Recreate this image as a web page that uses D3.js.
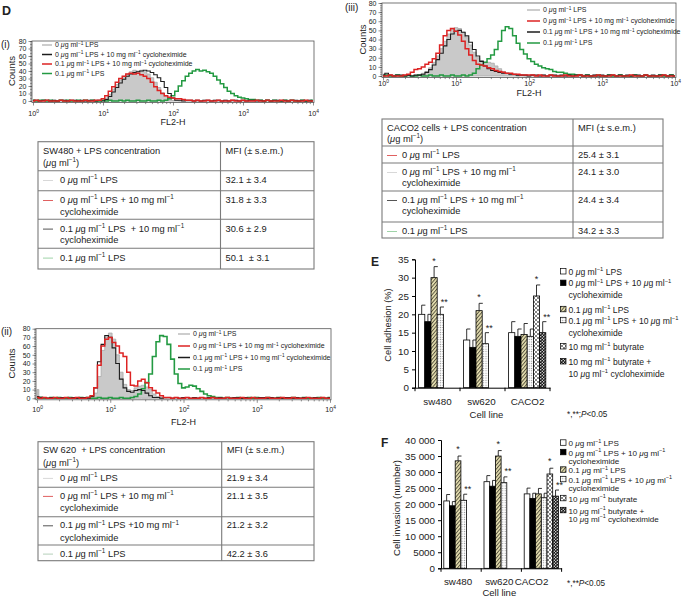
<!DOCTYPE html>
<html>
<head>
<meta charset="utf-8">
<script src="https://cdn.jsdelivr.net/npm/d3@7.9.0/dist/d3.min.js"></script>
<style>
  body { margin: 0; background: #fff; }
  svg { display: block; }
  text { font-family: "Liberation Sans", Arial, Helvetica, sans-serif; white-space: pre; fill: #222; }
</style>
</head>
<body>
<svg id="fig" width="685" height="599"></svg>
<script>
// ---------- flow cytometry histograms (counts per 0.05-decade channel, FL2-H 10^0..10^4) ----------
const fl2Exp = d3.range(0, 4.0001, 0.05);
const fl2Ticks = [1, 10, 100, 1000, 10000];
const countTicks = [0, 10, 20, 30, 40, 50, 60, 70, 80];

// (i) SW480
const sw480_0LPS = [1,0,0,1,0,0,1,0,0,1, 0,0,1,0,0,1,0,0,1,0, 1,4,9,16,22,28,33,36,39,41, 40,41,39,36,31,25,18,11,6,3, 1,1,0,1,0,0,1,0,0,1, 0,0,1,0,0,1,0,0,1,0, 0,1,0,0,1,0,0,1,0,0, 1,0,0,1,0,0,1,0,0,1,0];
const sw480_0LPScyclo = [1,1,0,1,1,0,1,0,1,1, 0,1,1,0,1,0,1,1,0,1, 0,2,6,12,18,24,29,33,36,38, 39,40,41,40,38,35,31,26,18,10, 4,1,1,0,1,1,0,1,0,1, 1,0,1,1,0,1,0,1,1,0, 1,0,1,1,0,1,0,1,0,1, 1,0,1,0,1,1,0,1,0,1,0];
const sw480_01LPScyclo = [0,1,0,0,1,0,0,0,1,0, 0,1,0,0,0,1,0,0,1,1, 3,7,13,19,25,30,33,36,37,36, 37,35,33,30,25,19,14,10,7,5, 4,3,3,2,1,1,0,1,0,0, 1,0,0,1,0,0,0,1,0,0, 1,0,0,0,1,0,0,1,0,0, 0,1,0,0,1,0,0,0,1,0,0];
const sw480_01LPS = [1,0,1,1,0,1,0,0,1,0, 1,0,0,1,0,1,0,1,0,0, 1,0,1,0,0,1,0,1,0,0, 1,0,0,1,0,0,1,0,1,3, 7,13,20,27,33,37,40,42,40,41, 39,37,33,28,23,18,13,10,7,5, 4,3,2,2,1,1,0,1,0,1, 0,0,1,0,1,0,0,1,0,0,1];

// (iii) CACO2
const caco2_0LPS = [2,1,0,1,0,0,1,0,0,1, 1,3,5,9,15,22,30,38,46,51, 53,52,48,42,34,26,20,17,15,15, 14,11,8,5,3,1,1,0,1,0, 0,1,0,0,1,0,0,0,1,0, 0,1,0,0,0,1,0,0,1,0, 0,0,1,0,0,1,0,0,0,1, 0,0,1,0,0,0,1,0,0,1,0];
const caco2_0LPScyclo = [0,0,1,0,0,0,1,2,4,7, 8,10,13,15,19,25,34,44,50,52, 49,45,38,30,23,17,13,12,11,9, 8,6,5,4,3,3,2,2,1,1, 1,1,0,1,0,0,1,0,0,0, 1,0,0,0,1,0,0,0,0,1, 0,0,0,1,0,0,0,0,1,0, 0,0,1,0,0,0,0,1,0,0,0];
const caco2_01LPScyclo = [1,3,1,0,1,1,0,1,0,1, 1,2,4,7,12,18,25,33,40,46, 49,50,48,44,37,29,22,16,11,8, 6,5,4,3,3,2,2,1,1,1, 0,1,1,0,1,0,1,1,0,1, 0,1,0,1,1,0,1,0,1,0, 1,0,1,1,0,1,0,1,0,1, 1,0,1,0,1,0,1,1,0,1,0];
const caco2_01LPS = [0,1,0,0,1,0,0,1,0,0, 1,0,0,1,0,0,1,0,0,1, 0,0,1,0,1,3,8,12,15,19, 23,29,38,50,54,52,44,36,29,24, 19,16,13,11,9,8,7,5,4,4, 3,2,2,1,1,0,1,0,0,1, 0,0,1,0,0,1,0,0,0,1, 0,0,1,0,0,0,1,0,0,1,0];

// (ii) SW620
const sw620_0LPS = [10,2,1,0,1,0,1,0,0,1, 0,1,0,0,1,1,6,25,55,70, 75,68,50,30,16,10,9,12,14,15, 13,10,5,2,1,0,1,0,1,0, 0,1,0,0,1,0,0,1,0,0, 1,0,0,1,0,0,0,1,0,0, 1,0,0,0,1,0,0,1,0,0, 0,1,0,0,0,1,0,0,1,0,0];
const sw620_0LPScyclo = [1,0,1,0,0,1,0,0,1,0, 0,1,0,0,1,3,12,38,60,68, 70,64,60,52,48,30,15,14,20,22, 18,12,9,6,3,1,1,0,1,0, 0,1,0,0,0,1,0,0,1,0, 0,0,1,0,0,0,1,0,0,1, 0,0,0,1,0,0,0,1,0,0, 1,0,0,0,1,0,0,0,1,0,0];
const sw620_01LPScyclo = [2,1,1,0,1,1,0,1,1,0, 1,0,1,1,0,2,12,42,62,72, 70,58,40,22,12,8,7,9,10,9, 6,3,1,1,0,1,1,0,1,0, 1,1,0,1,0,1,0,1,1,0, 1,0,1,0,1,1,0,1,0,1, 0,1,1,0,1,0,1,0,1,1, 0,1,0,1,1,0,1,0,1,0,1];
const sw620_01LPS = [0,1,0,0,1,0,1,0,0,1, 0,0,1,0,1,0,0,1,0,0, 1,0,0,1,0,0,1,2,5,11, 18,28,48,65,72,71,62,45,28,17, 12,13,15,14,11,8,5,3,2,1, 1,0,1,0,0,1,0,0,1,0, 1,0,0,1,0,0,1,0,0,0, 1,0,0,1,0,0,0,1,0,0,1];

// ---------- MFI tables ----------
const sw480Head = ['SW480 + LPS concentration', '(μg ml^−1^)'];
const sw480Rows = [['0 μg ml^−1^ LPS'], ['0 μg ml^−1^ LPS + 10 mg ml^−1^', 'cycloheximide'], ['0.1 μg ml^−1^ LPS  + 10 mg ml^−1^', 'cycloheximide'], ['0.1 μg ml^−1^ LPS']];
const sw480Mfi = ['32.1 ± 3.4', '31.8 ± 3.3', '30.6 ± 2.9', '50.1  ± 3.1'];

const sw620Head = ['SW 620  + LPS concentration', '(μg ml^−1^)'];
const sw620Rows = [['0 μg ml^−1^ LPS'], ['0 μg ml^−1^ LPS + 10 mg ml^−1^', 'cycloheximide'], ['0.1 μg ml^−1^ LPS +10 mg ml^−1^', 'cycloheximide'], ['0.1 μg ml^−1^ LPS']];
const sw620Mfi = ['21.9 ± 3.4', '21.1 ± 3.5', '21.2 ± 3.2', '42.2 ± 3.6'];

const caco2Head = ['CACO2 cells + LPS concentration', '(μg ml^−1^)'];
const caco2Rows = [['0 μg ml^−1^ LPS'], ['0 μg ml^−1^ LPS + 10 mg ml^−1^', 'cycloheximide'], ['0.1 μg ml^−1^ LPS + 10 mg ml^−1^', 'cycloheximide'], ['0.1 μg ml^−1^ LPS']];
const caco2Mfi = ['25.4 ± 3.1', '24.1 ± 3.0', '24.4 ± 3.4', '34.2 ± 3.3'];

// ---------- E / F bar charts ----------
const cellLines = ['sw480', 'sw620', 'CACO2'];
const adhesionTicks = [0, 5, 10, 15, 20, 25, 30, 35];
const adhesionMean = [[20, 18, 30, 20, null, null], [13, 11, 21, 12, null, null], [15, 14, 14.5, 14, 25, 15]];
const adhesionErr = [[2.5, 2, 3, 2, null, null], [3, 2, 2, 3, null, null], [3, 2, 3, 2, 3, 3]];
const invasionTicks = [0, 5000, 10000, 15000, 20000, 25000, 30000, 35000, 40000];
const invasionMean = [[21000, 19500, 33500, 21200, null, null], [27000, 25600, 35000, 26700, null, null], [23200, 21800, 23200, 22000, 29400, 22500]];
const invasionErr = [[2000, 1300, 1500, 1900, null, null], [1900, 1800, 1700, 1800, null, null], [1800, 1600, 1700, 1400, 1800, 1900]];
// significance marks: [cell line, treatment index, symbol]
const adhesionSig = [['sw480', 2, '*'], ['sw480', 3, '**'], ['sw620', 2, '*'], ['sw620', 3, '**'], ['CACO2', 4, '*'], ['CACO2', 5, '**']];
const invasionSig = [['sw480', 2, '*'], ['sw480', 3, '**'], ['sw620', 2, '*'], ['sw620', 3, '**'], ['CACO2', 4, '*'], ['CACO2', 5, '**']];
const adhesionLegend = [['0 μg ml^−1^ LPS'], ['0 μg ml^−1^ LPS + 10 μg ml^−1^', 'cycloheximide'], ['0.1 μg ml^−1^ LPS'], ['0.1 μg ml^−1^ LPS + 10 μg ml^−1^', 'cycloheximide'], ['10 mg ml^−1^ butyrate'], ['10 mg ml^−1^ butyrate +', '10 μg ml^−1^ cycloheximide']];
const invasionLegend = [['0 μg ml^−1^ LPS'], ['0 μg ml^−1^ LPS + 10 μg ml^−1^', 'cycloheximide'], ['0.1 μg ml^−1^ LPS'], ['0.1 μg ml^−1^ LPS + 10 μg ml^−1^', 'cycloheximide'], ['10 μg ml^−1^ butyrate'], ['10 μg ml^−1^ butyrate +', '10 μg ml^−1^ cycloheximide']];

const svg = d3.select('#fig');
const FONT = '"Liberation Sans", Arial, Helvetica, sans-serif';
const RED = '#dd2323', GREEN = '#239a42', BLACK = '#1c1c1c', GRAY = '#bdbdbd';

// text with ^superscript^ parts and italic mu
function rich(t, str, fs) {
  t.attr('font-size', fs);
  let up = false;
  str.split('^').forEach((p, i) => {
    if (!p) return;
    if (i % 2 === 1) {
      t.append('tspan').attr('font-size', fs * 0.68).attr('dy', -fs * 0.38).text(p);
      up = true;
    } else {
      p.split(/(μ)/).forEach(q => {
        if (!q) return;
        const s = t.append('tspan').text(q);
        if (q === 'μ') s.attr('font-style', 'italic');
        if (up) { s.attr('dy', fs * 0.38); up = false; }
      });
    }
  });
  return t;
}
function label(x, y, str, fs, anchor) {
  return rich(svg.append('text').attr('x', x).attr('y', y).attr('text-anchor', anchor || 'start'), str, fs);
}

// ---------- patterns ----------
const defs = svg.append('defs');
const hatch = defs.append('pattern').attr('id', 'hatch').attr('patternUnits', 'userSpaceOnUse')
  .attr('width', 2.6).attr('height', 2.6).attr('patternTransform', 'rotate(40)');
hatch.append('rect').attr('width', 2.6).attr('height', 2.6).attr('fill', '#e6dfb0');
hatch.append('line').attr('x1', 0.5).attr('x2', 0.5).attr('y1', 0).attr('y2', 2.6).attr('stroke', '#4d4a38').attr('stroke-width', 0.9);
const dots = defs.append('pattern').attr('id', 'dots').attr('patternUnits', 'userSpaceOnUse').attr('width', 2.4).attr('height', 2.4);
dots.append('rect').attr('width', 2.4).attr('height', 2.4).attr('fill', '#fff');
dots.append('circle').attr('cx', 1.2).attr('cy', 1.2).attr('r', 0.6).attr('fill', '#888');
const cross = defs.append('pattern').attr('id', 'cross').attr('patternUnits', 'userSpaceOnUse').attr('width', 4).attr('height', 4);
cross.append('rect').attr('width', 4).attr('height', 4).attr('fill', '#fff');
cross.append('path').attr('d', 'M0,0L4,4M4,0L0,4').attr('stroke', '#333').attr('stroke-width', 0.6);
const checker = defs.append('pattern').attr('id', 'checker').attr('patternUnits', 'userSpaceOnUse').attr('width', 3).attr('height', 3);
checker.append('rect').attr('width', 3).attr('height', 3).attr('fill', '#111');
checker.append('circle').attr('cx', 0.75).attr('cy', 0.75).attr('r', 0.7).attr('fill', '#fff');
checker.append('circle').attr('cx', 2.25).attr('cy', 2.25).attr('r', 0.7).attr('fill', '#fff');
const barFills = ['#fff', '#000', 'url(#hatch)', 'url(#dots)', 'url(#cross)', 'url(#checker)'];

// ---------- histogram panel ----------
function histPanel(o) {
  const x = d3.scaleLog().domain([1, 1e4]).range([o.x0, o.x1]);
  const y = d3.scaleLinear().domain([0, 80]).range([o.y0, o.y1]);
  const g = svg.append('g');
  const clip = 'clip-' + o.id;
  defs.append('clipPath').attr('id', clip).append('rect')
    .attr('x', o.x0 - 1).attr('y', o.y1).attr('width', o.x1 - o.x0 + 2).attr('height', o.y0 - o.y1 + 2);
  const plot = g.append('g').attr('clip-path', `url(#${clip})`);
  o.series.forEach(s => {
    const pts = s.counts.map((c, i) => [fl2Exp[i], c]);
    if (s.fill) {
      plot.append('path').datum(pts)
        .attr('d', d3.area().curve(d3.curveStep).x(d => x(10 ** d[0])).y0(y(0)).y1(d => y(d[1])))
        .attr('fill', '#c9c9c9').attr('stroke', '#a8a8a8').attr('stroke-width', 0.8);
    } else {
      plot.append('path').datum(pts)
        .attr('d', d3.line().curve(d3.curveStep).x(d => x(10 ** d[0])).y(d => y(d[1])))
        .attr('fill', 'none').attr('stroke', s.color).attr('stroke-width', s.w);
    }
  });
  // frame
  g.append('rect').attr('x', o.x0 - 1).attr('y', o.y1).attr('width', o.x1 - o.x0 + 2).attr('height', o.y0 - o.y1 + 1.5)
    .attr('fill', 'none').attr('stroke', '#555').attr('stroke-width', 0.8);
  // y axis
  const ya = g.append('g').attr('transform', `translate(${o.x0 - 1},0)`)
    .call(d3.axisLeft(y).tickValues(countTicks).tickSize(3.5).tickPadding(2));
  ya.select('.domain').remove();
  ya.selectAll('text').attr('font-family', FONT).attr('font-size', 7).attr('fill', '#333');
  g.append('g').attr('transform', `translate(${o.x0 - 1},0)`)
    .call(d3.axisLeft(y).tickValues(d3.range(0, 81, 2)).tickSize(2).tickFormat(''))
    .select('.domain').remove();
  // x axis
  const xa = g.append('g').attr('transform', `translate(0,${o.y0 + 1.5})`)
    .call(d3.axisBottom(x).tickValues(fl2Ticks).tickSize(3).tickPadding(o.xPad));
  xa.select('.domain').remove();
  xa.selectAll('text').each(function (d) {
    const t = d3.select(this).text('').attr('font-family', FONT).attr('fill', '#333');
    rich(t, '10^' + Math.round(Math.log10(d)) + '^', 7.2);
  });
  const minor = [];
  [1, 10, 100, 1000].forEach(b => d3.range(2, 10).forEach(m => minor.push(b * m)));
  g.append('g').attr('transform', `translate(0,${o.y0 + 1.5})`)
    .call(d3.axisBottom(x).tickValues(minor).tickSize(1.6).tickFormat(''))
    .select('.domain').remove();
  g.selectAll('.tick line').attr('stroke', '#444').attr('stroke-width', 0.6);
  label((o.x0 + o.x1) / 2, o.titleY, 'FL2-H', 9, 'middle');
  svg.append('text').attr('transform', `translate(${o.countsX},${(o.y0 + o.y1) / 2}) rotate(-90)`)
    .attr('text-anchor', 'middle').attr('font-size', 9.5).text('Counts');
  // legend
  o.legend.forEach((s, k) => {
    const yy = o.legY[k];
    g.append('line').attr('x1', o.legX).attr('x2', o.legX + o.legW).attr('y1', yy).attr('y2', yy)
      .attr('stroke', s.color).attr('stroke-width', 1.5);
    rich(g.append('text').attr('x', o.legX + o.legW + 3).attr('y', yy + 2.4), s.text, 7);
  });
}

const L0 = '0 μg ml^−1^ LPS', L01 = '0.1 μg ml^−1^ LPS';
const L0c = '0 μg ml^−1^ LPS + 10 mg ml^−1^ cycloheximide', L01c = '0.1 μg ml^−1^ LPS + 10 mg ml^−1^ cycloheximide';

histPanel({
  id: 'i', x0: 33, x1: 313, y0: 101, y1: 41, xPad: 5, titleY: 124.5, countsX: 15,
  series: [
    { counts: sw480_0LPS, fill: true },
    { counts: sw480_01LPS, color: GREEN, w: 1.5 },
    { counts: sw480_0LPScyclo, color: BLACK, w: 1.1 },
    { counts: sw480_01LPScyclo, color: RED, w: 1.4 }
  ],
  legX: 42, legW: 10, legY: [45, 54.5, 64, 73.5],
  legend: [{ color: GRAY, text: L0 }, { color: BLACK, text: L0c }, { color: RED, text: L01c }, { color: GREEN, text: L01 }]
});
histPanel({
  id: 'iii', x0: 383, x1: 675, y0: 76, y1: 3, xPad: 0, titleY: 95.5, countsX: 366,
  series: [
    { counts: caco2_0LPS, fill: true },
    { counts: caco2_01LPS, color: GREEN, w: 1.5 },
    { counts: caco2_01LPScyclo, color: BLACK, w: 1.1 },
    { counts: caco2_0LPScyclo, color: RED, w: 1.5 }
  ],
  legX: 527, legW: 13, legY: [10, 21, 32, 43],
  legend: [{ color: GRAY, text: L0 }, { color: RED, text: L0c }, { color: BLACK, text: L01c }, { color: GREEN, text: L01 }]
});
histPanel({
  id: 'ii', x0: 37, x1: 330, y0: 398.3, y1: 328.7, xPad: 4, titleY: 424.5, countsX: 15,
  series: [
    { counts: sw620_0LPS, fill: true },
    { counts: sw620_01LPS, color: GREEN, w: 1.6 },
    { counts: sw620_01LPScyclo, color: BLACK, w: 1.1 },
    { counts: sw620_0LPScyclo, color: RED, w: 1.5 }
  ],
  legX: 178, legW: 12, legY: [334, 346, 357.5, 369],
  legend: [{ color: GRAY, text: L0 }, { color: RED, text: L0c }, { color: BLACK, text: L01c }, { color: GREEN, text: L01 }]
});

// ---------- MFI tables ----------
function mfiTable(o) {
  const g = svg.append('g');
  const top = o.rows[0], bot = o.rows[o.rows.length - 1];
  g.append('rect').attr('x', o.x0).attr('y', top).attr('width', o.x1 - o.x0).attr('height', bot - top)
    .attr('fill', 'none').attr('stroke', '#7a7a7a').attr('stroke-width', 1.1);
  o.rows.slice(1, -1).forEach(r => g.append('line').attr('x1', o.x0).attr('x2', o.x1).attr('y1', r).attr('y2', r)
    .attr('stroke', '#7a7a7a').attr('stroke-width', 1.1));
  g.append('line').attr('x1', o.xc).attr('x2', o.xc).attr('y1', top).attr('y2', bot).attr('stroke', '#7a7a7a').attr('stroke-width', 1.1);
  const lines = (cellTop, arr, x) => arr.forEach((s, k) =>
    rich(g.append('text').attr('x', x).attr('y', cellTop + o.pad + k * o.lh), s, 9.3));
  lines(top, o.head, o.x0 + 5);
  lines(top, ['MFI (± s.e.m.)'], o.xc + 5);
  o.labels.forEach((lab, r) => {
    const ct = o.rows[r + 1];
    g.append('line').attr('x1', o.x0 + 5).attr('x2', o.x0 + 15).attr('y1', ct + o.pad - 2.5).attr('y2', ct + o.pad - 2.5)
      .attr('stroke', o.swatch[r]).attr('stroke-width', 1);
    lines(ct, lab, o.x0 + o.textOff);
    lines(ct, [o.mfi[r]], o.xc + 5);
  });
}
mfiTable({ x0: 38, x1: 314, xc: 220.5, rows: [141.7, 170.7, 190.7, 219.3, 248.3, 269], pad: 12.3, lh: 11.5, textOff: 22,
  head: sw480Head, labels: sw480Rows, mfi: sw480Mfi, swatch: ['#d8d8d8', '#e06060', '#555', '#9fd3a8'] });
mfiTable({ x0: 38, x1: 314, xc: 221.7, rows: [441.7, 469.3, 487.3, 516.7, 545, 560.7], pad: 11.6, lh: 12.2, textOff: 22,
  head: sw620Head, labels: sw620Rows, mfi: sw620Mfi, swatch: ['#d8d8d8', '#e06060', '#555', '#b5d0bb'] });
mfiTable({ x0: 382, x1: 663, xc: 573, rows: [119, 146, 163, 191, 222, 238], pad: 12, lh: 10.6, textOff: 20,
  head: caco2Head, labels: caco2Rows, mfi: caco2Mfi, swatch: ['#e06060', '#d8d8d8', '#555', '#9fd3a8'] });

// ---------- grouped bar charts ----------
function barPanel(o) {
  const g = svg.append('g');
  const x = d3.scaleBand().domain(cellLines).range([o.x0, o.x1]).padding(0);
  const inner = d3.scaleBand().domain(d3.range(6)).range([o.off, o.off + 6 * o.bw]).padding(0);
  const y = d3.scaleLinear().domain([0, o.max]).range([o.y0, o.y1]);
  cellLines.forEach((c, ci) => {
    o.mean[ci].forEach((m, k) => {
      if (m == null) return;
      const bx = x(c) + inner(k), top = y(m + o.err[ci][k]);
      g.append('line').attr('x1', bx + o.bw / 2).attr('x2', bx + o.bw / 2).attr('y1', y(m)).attr('y2', top)
        .attr('stroke', '#000').attr('stroke-width', 0.8);
      g.append('line').attr('x1', bx + o.bw / 2).attr('x2', bx + o.bw + 0.6).attr('y1', top).attr('y2', top)
        .attr('stroke', '#000').attr('stroke-width', 0.8);
      g.append('rect').attr('x', bx).attr('y', y(m)).attr('width', o.bw).attr('height', y(0) - y(m))
        .attr('fill', barFills[k]).attr('stroke', '#000').attr('stroke-width', 0.8);
    });
  });
  o.sig.forEach(([c, k, s]) => {
    const ci = cellLines.indexOf(c);
    const bx = x(c) + inner(k), top = y(o.mean[ci][k] + o.err[ci][k]);
    if (s === '*') g.append('text').attr('x', bx + o.bw / 2).attr('y', top - o.starGap).attr('text-anchor', 'middle').attr('font-size', 9).text(s);
    else g.append('text').attr('x', bx + o.bw / 2 + 0.5).attr('y', top - o.dstarGap).attr('font-size', 9).text(s);
  });
  // axes
  const ya = g.append('g').attr('transform', `translate(${o.x0},0)`)
    .call(d3.axisLeft(y).tickValues(o.ticks).tickSize(3).tickPadding(3).tickFormat(o.fmt));
  ya.selectAll('text').attr('font-family', FONT).attr('font-size', 9.8).attr('fill', '#222');
  const xa = g.append('g').attr('transform', `translate(0,${o.y0})`)
    .call(d3.axisBottom(x).tickSize(0).tickPadding(o.catPad));
  xa.selectAll('text').attr('font-family', FONT).attr('font-size', 9.8).attr('fill', '#222')
    .attr('dx', (d, i) => o.catDx[i]);
  xa.append('g').selectAll('line').data([...cellLines.map(c => x(c)), o.x1]).join('line')
    .attr('x1', d => d).attr('x2', d => d).attr('y1', 0).attr('y2', 3.5).attr('stroke', '#000');
  g.selectAll('.domain').attr('stroke', '#000');
  label((o.x0 + o.x1) / 2 + o.lineDx, o.lineY, 'Cell line', 9.5, 'middle');
  svg.append('text').attr('transform', `translate(${o.titleX},${o.titleY}) rotate(-90)`)
    .attr('text-anchor', 'middle').attr('font-size', o.titleFs).text(o.title);
  // legend
  o.legend.forEach((lines, k) => {
    const yy = o.legY[k];
    g.append('rect').attr('x', 560.5).attr('y', yy - 3.2).attr('width', 5.5).attr('height', 5.5)
      .attr('fill', barFills[k]).attr('stroke', '#000').attr('stroke-width', 0.7);
    lines.forEach((s, j) => rich(g.append('text').attr('x', 568.5).attr('y', yy + 3 + j * o.legLh), s, o.legFs));
  });
  const p = g.append('text').attr('x', 567).attr('y', o.pY).attr('font-size', 8.2);
  p.append('tspan').text(o.pPrefix);
  p.append('tspan').attr('font-style', 'italic').text('P');
  p.append('tspan').text('<0.05');
}

barPanel({
  x0: 415, x1: 550, y0: 387.7, y1: 259.3, max: 35, off: 3.6, bw: 6.2, ticks: adhesionTicks, fmt: d3.format('d'),
  mean: adhesionMean, err: adhesionErr, sig: adhesionSig, starGap: 3, dstarGap: 1.5, catPad: 10, catDx: [0, -1, 0],
  lineDx: 4, lineY: 417.5, title: 'Cell adhesion (%)', titleX: 391, titleY: 325, titleFs: 9.3,
  legend: adhesionLegend, legY: [271.7, 283.3, 309.5, 320.5, 346.7, 361.7], legLh: 12, legFs: 8.6,
  pY: 417, pPrefix: '*,**;'
});
barPanel({
  x0: 441, x1: 561.6, y0: 568.3, y1: 440, max: 40000, off: 2.8, bw: 5.7, ticks: invasionTicks,
  fmt: v => v >= 10000 ? d3.format(',')(v).replace(',', ' ') : String(v),
  mean: invasionMean, err: invasionErr, sig: invasionSig, starGap: 4, dstarGap: 2.5, catPad: 10, catDx: [-3, -2, -10],
  lineDx: -2, lineY: 596, title: 'Cell invasion (number)', titleX: 400, titleY: 508, titleFs: 9.6,
  legend: invasionLegend, legY: [443, 452.5, 470, 479.5, 498.5, 510.5], legLh: 8, legFs: 8.1,
  pY: 585.5, pPrefix: '*,**'
});

// ---------- panel letters ----------
svg.append('text').attr('x', 2).attr('y', 15).attr('font-size', 12.5).attr('font-weight', 'bold').text('D');
svg.append('text').attr('x', 371).attr('y', 265.5).attr('font-size', 12).attr('font-weight', 'bold').text('E');
svg.append('text').attr('x', 381).attr('y', 447).attr('font-size', 12).attr('font-weight', 'bold').text('F');
svg.append('text').attr('x', 1).attr('y', 48).attr('font-size', 10).text('(i)');
svg.append('text').attr('x', 1).attr('y', 335).attr('font-size', 10).text('(ii)');
svg.append('text').attr('x', 345).attr('y', 11).attr('font-size', 10).text('(iii)');
</script>
</body>
</html>
